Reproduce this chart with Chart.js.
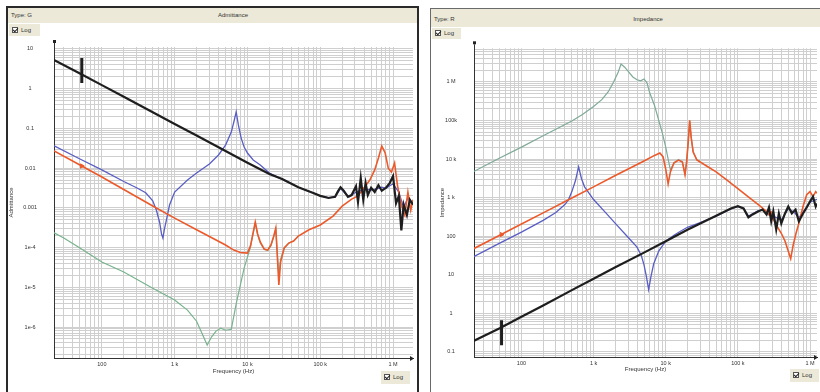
<!DOCTYPE html>
<html>
<head>
<meta charset="utf-8">
<title>Admittance / Impedance</title>
<script src="https://cdn.jsdelivr.net/npm/chart.js@4.4.1/dist/chart.umd.min.js"></script>
<style>
  * { box-sizing: border-box; }
  html, body { margin: 0; padding: 0; width: 820px; height: 392px; overflow: hidden; background: #fff;
    font-family: "Liberation Sans", Arial, sans-serif; color: #333; }
  .abs { position: absolute; }
  .frameA { left: 6px; top: 6px; width: 413px; height: 400px; border: 2px solid #2a2a2a; }
  .frameB { left: 430px; top: 8px; width: 420px; height: 400px; border: 1px solid #6a6a6a; }
  .bar { background: #ece9d8; }
  .txt { font-size: 6px; line-height: 7px; white-space: nowrap; }
  .center { text-align: center; }
  .logbox { background: #ece9d8; font-size: 6px; white-space: nowrap; padding-left: 3px; }
  .chk { display: inline-block; width: 6px; height: 6px; border: 1px solid #555; background: #fff;
    vertical-align: middle; position: relative; margin-right: 3px; }
  .chk::after { content: ''; position: absolute; left: 1px; top: -1px; width: 2px; height: 4px;
    border: solid #222; border-width: 0 1px 1px 0; transform: rotate(45deg); }
  canvas { position: absolute; }
</style>
</head>
<body>
<div class="abs frameA"></div>
<div class="abs frameB"></div>

<canvas id="admChart" style="left:8px;top:24px;width:410px;height:362px" width="410" height="362"></canvas>
<canvas id="impChart" style="left:432px;top:28px;width:390px;height:358px" width="390" height="358"></canvas>

<!-- left panel chrome -->
<div class="abs bar" style="left:8px;top:8px;width:409px;height:15px"></div>
<div class="abs txt" style="left:11px;top:12px">Type: G</div>
<div class="abs txt center" style="left:183px;top:12px;width:100px">Admittance</div>
<div class="abs logbox" style="left:9px;top:24px;width:31px;height:12px;line-height:12px"><span class="chk"></span>Log</div>
<div class="abs logbox" style="left:381px;top:371px;width:29px;height:13px;line-height:13px"><span class="chk"></span>Log</div>

<!-- right panel chrome -->
<div class="abs bar" style="left:431px;top:9px;width:400px;height:18px"></div>
<div class="abs txt" style="left:434px;top:16px">Type: R</div>
<div class="abs txt center" style="left:598px;top:16px;width:100px">Impedance</div>
<div class="abs logbox" style="left:432px;top:28px;width:29px;height:11px;line-height:11px"><span class="chk"></span>Log</div>
<div class="abs logbox" style="left:790px;top:369px;width:29px;height:13px;line-height:13px"><span class="chk"></span>Log</div>

<script>
// ---- axis labels ----
const freqTickValues = [100, 1e3, 1e4, 1e5, 1e6];
const freqTickLabels = ['100', '1 k', '10 k', '100 k', '1 M'];
const admTickValues = [10, 1, 0.1, 0.01, 0.001, 1e-4, 1e-5, 1e-6];
const admTickLabels = ['10', '1', '0.1', '0.01', '0.001', '1e-4', '1e-5', '1e-6'];
const impTickValues = [1e6, 1e5, 1e4, 1e3, 100, 10, 1, 0.1];
const impTickLabels = ['1 M', '100k', '10 k', '1 k', '100', '10', '1', '0.1'];

// ---- admittance (S) vs frequency (Hz) ----
const admBlackF = [20, 50, 100, 200, 500, 1e3, 2e3, 5e3, 1e4, 2e4, 3e4, 5e4, 8e4, 1e5, 1.3e5, 1.6e5, 1.75e5, 1.9e5, 2.1e5, 2.4e5, 2.7e5, 3.1e5, 3.3e5, 3.6e5, 3.9e5, 4.2e5, 4.5e5, 5e5, 5.6e5, 6.3e5, 7e5, 8e5, 9e5, 1e6, 1.1e6, 1.2e6, 1.3e6, 1.4e6, 1.55e6, 1.7e6, 1.88e6];
const admBlackV = [5.8, 2.4, 1.23, 0.625, 0.255, 0.129, 0.066, 0.027, 0.0136, 0.0071, 0.0053, 0.0033, 0.00236, 0.0020, 0.00177, 0.0019, 0.0026, 0.0033, 0.0027, 0.0019, 0.0021, 0.0035, 0.0014, 0.0056, 0.0016, 0.0042, 0.0021, 0.0032, 0.0025, 0.0037, 0.0027, 0.0032, 0.0042, 0.0063, 0.0013, 0.0020, 0.00027, 0.0012, 0.00066, 0.0016, 0.0012];

const admRedF = [20, 50, 100, 200, 500, 1e3, 2e3, 5e3, 6.5e3, 8e3, 1e4, 1.1e4, 1.2e4, 1.28e4, 1.38e4, 1.5e4, 1.7e4, 1.9e4, 2.1e4, 2.3e4, 2.45e4, 2.6e4, 2.7e4, 2.85e4, 3.2e4, 3.7e4, 4.3e4, 5e4, 7e4, 1e5, 1.5e5, 2e5, 2.7e5, 3.3e5, 4e5, 4.8e5, 5.6e5, 6.3e5, 7e5, 7.8e5, 8.6e5, 9.5e5, 1.05e6, 1.15e6, 1.3e6, 1.45e6, 1.6e6, 1.75e6, 1.88e6];
const admRedV = [0.030, 0.012, 0.006, 0.0029, 0.00111, 0.00055, 0.00028, 0.000116, 0.0000865, 0.0000748, 0.0000727, 0.00011, 0.000245, 0.00044, 0.00022, 0.000138, 0.0000917, 0.0000865, 0.000116, 0.000195, 0.00031, 0.0000431, 0.0000114, 0.0000431, 0.0000977, 0.00013, 0.000146, 0.000195, 0.00028, 0.00037, 0.00062, 0.0011, 0.00166, 0.0020, 0.0032, 0.005, 0.009, 0.018, 0.036, 0.024, 0.01, 0.0079, 0.0135, 0.0037, 0.00117, 0.00066, 0.0025, 0.00088, 0.0016];

const admBlueF = [20, 50, 100, 200, 300, 400, 500, 560, 620, 660, 690, 720, 780, 850, 1e3, 1.5e3, 2e3, 3e3, 4e3, 5e3, 6e3, 6.6e3, 7e3, 7.5e3, 8.2e3, 9e3, 1e4, 1.2e4, 1.5e4, 2e4, 3e4, 5e4, 8e4, 1e5, 1.3e5, 1.6e5, 1.9e5, 2.2e5, 2.5e5, 3e5, 4e5, 5e5, 6e5, 7e5, 8e5, 9e5, 1e6, 1.2e6, 1.4e6, 1.6e6, 1.88e6];
const admBlueV = [0.040, 0.017, 0.009, 0.0046, 0.0032, 0.0024, 0.0015, 0.00088, 0.00044, 0.00022, 0.000174, 0.00028, 0.00055, 0.00118, 0.0025, 0.0050, 0.0075, 0.0127, 0.0214, 0.038, 0.081, 0.163, 0.26, 0.122, 0.057, 0.034, 0.024, 0.016, 0.012, 0.0075, 0.0052, 0.0033, 0.0024, 0.0020, 0.0018, 0.0019, 0.0031, 0.0023, 0.0019, 0.0024, 0.0030, 0.0028, 0.0030, 0.0033, 0.0031, 0.0036, 0.0040, 0.0025, 0.0010, 0.0018, 0.0013];

const admGreenF = [20, 30, 50, 100, 200, 500, 1e3, 1.5e3, 2e3, 2.5e3, 2.8e3, 3.2e3, 3.7e3, 4.3e3, 5e3, 6e3, 7e3, 8e3, 9e3, 1e4, 1.1e4, 1.2e4, 1.28e4, 1.38e4, 1.5e4, 1.7e4, 1.9e4, 2.1e4, 2.3e4, 2.45e4, 2.6e4, 2.7e4, 2.85e4, 3.2e4, 3.7e4, 4.3e4, 5e4];
const admGreenV = [0.00026, 0.000174, 0.000097, 0.0000431, 0.0000242, 0.0000095, 0.0000048, 0.00000267, 0.0000014, 5.6e-7, 3.5e-7, 5.6e-7, 7.9e-7, 9.3e-7, 8.3e-7, 8.8e-7, 3.8e-6, 0.0000115, 0.0000305, 0.0000575, 0.000103, 0.00023, 0.00041, 0.00021, 0.00013, 0.000089, 0.000085, 0.00011, 0.00019, 0.00029, 0.000052, 0.000018, 0.00005, 0.0000977, 0.00013, 0.000146, 0.000195];

const admCursorF = [53, 53];
const admCursorV = [5.9, 1.39];
const admRedMarkF = [53];
const admRedMarkV = [0.0113];

// ---- impedance (Ohm) vs frequency (Hz) ----
const impGreenF = [20, 50, 100, 200, 500, 700, 1e3, 1.3e3, 1.6e3, 1.9e3, 2.2e3, 2.4e3, 2.7e3, 3e3, 3.5e3, 4e3, 4.5e3, 5e3, 5.5e3, 6e3, 7e3, 8e3, 9e3, 1e4, 1.1e4, 1.16e4, 1.3e4, 1.5e4, 1.7e4, 1.85e4, 1.95e4, 2.05e4, 2.15e4, 2.25e4, 2.4e4, 2.7e4, 3e4];
const impGreenV = [4380, 10600, 20300, 40100, 97000, 143000, 229000, 345000, 554000, 1.0e6, 1.8e6, 2.9e6, 2.4e6, 1.9e6, 1.34e6, 1.13e6, 1.06e6, 1.19e6, 0.94e6, 0.52e6, 243000, 100000, 46400, 20400, 8400, 5200, 8100, 9600, 8600, 4200, 8600, 30000, 95000, 38000, 15500, 9600, 8600];

const impRedF = [20, 50, 100, 200, 500, 1e3, 2e3, 5e3, 7e3, 8.3e3, 9.2e3, 1e4, 1.08e4, 1.16e4, 1.3e4, 1.5e4, 1.7e4, 1.85e4, 1.95e4, 2.05e4, 2.15e4, 2.25e4, 2.4e4, 2.7e4, 3e4, 3.5e4, 5e4, 7e4, 1e5, 1.5e5, 2e5, 2.5e5, 2.7e5, 2.9e5, 3.1e5, 3.5e5, 4e5, 4.5e5, 5e5, 5.4e5, 5.8e5, 6.4e5, 7e5, 8e5, 9e5, 1e6, 1.1e6, 1.2e6, 1.25e6];
const impRedV = [43.8, 106, 207, 402, 980, 1900, 3730, 8900, 12400, 14300, 11300, 5500, 2280, 4640, 7900, 9400, 8400, 3870, 8400, 27300, 100000, 36600, 15100, 9400, 8400, 7000, 4640, 2900, 1700, 940, 620, 437, 360, 420, 280, 180, 119, 75, 41, 26, 55, 119, 214, 590, 1190, 1430, 1060, 1430, 1300];

const impBlueF = [20, 50, 100, 200, 300, 400, 450, 500, 560, 620, 680, 750, 1e3, 1.5e3, 2e3, 3e3, 4e3, 4.6e3, 5e3, 5.4e3, 5.8e3, 6.2e3, 6.8e3, 8e3, 1e4, 1.3e4, 1.6e4, 2e4, 3e4, 5e4, 8e4, 1e5, 1.2e5, 1.4e5, 1.6e5, 1.9e5, 2.2e5, 2.5e5, 3e5, 3.5e5, 4e5, 5e5, 6e5, 7e5, 8e5, 1e6, 1.25e6];
const impBlueV = [27, 66, 127, 257, 412, 660, 890, 1430, 2730, 6240, 3090, 1900, 890, 390, 215, 94, 52, 31, 18, 8.9, 4.1, 8.4, 19, 41, 74, 106, 134, 170, 225, 330, 510, 590, 520, 330, 380, 450, 480, 390, 330, 300, 260, 520, 420, 300, 420, 760, 900];

const impBlackF = [20, 50, 100, 200, 500, 1e3, 2e3, 5e3, 1e4, 2e4, 5e4, 8e4, 1e5, 1.2e5, 1.4e5, 1.6e5, 1.9e5, 2.2e5, 2.5e5, 2.7e5, 2.9e5, 3.1e5, 3.4e5, 3.7e5, 4e5, 4.5e5, 5e5, 5.6e5, 6.3e5, 7e5, 8e5, 9e5, 1e6, 1.1e6, 1.2e6, 1.25e6];
const impBlackV = [0.18, 0.41, 0.82, 1.6, 4.0, 7.9, 15.6, 37.5, 74, 147, 340, 520, 600, 525, 307, 366, 437, 490, 366, 555, 243, 437, 150, 389, 214, 389, 590, 389, 490, 243, 389, 555, 790, 1060, 590, 700];

const impCursorF = [53, 53];
const impCursorV = [0.66, 0.15];
const impRedMarkF = [53];
const impRedMarkV = [110];

// ---- helpers ----
const pts = (fs, vs) => fs.map((f, i) => ({ x: f, y: vs[i] }));

// grid positions at 1..9 x 10^n inside [min, max]
function logGrid(min, max) {
  const out = [];
  for (let e = Math.floor(Math.log10(min)); e <= Math.ceil(Math.log10(max)); e++) {
    for (let k = 1; k <= 9; k++) {
      const v = k * Math.pow(10, e);
      if (v >= min * 0.999 && v <= max * 1.001) out.push(+v.toPrecision(6));
    }
  }
  return out;
}
function labelFor(values, labels) {
  return (v) => {
    const i = values.findIndex(t => Math.abs(Math.log10(v / t)) < 1e-6);
    return i >= 0 ? labels[i] : '';
  };
}

const COLORS = { black: '#1e1e1e', red: '#ec5a2c', blue: '#5a5ec4', green: '#78b28e' };

function line(data, color, width) {
  return { data, borderColor: color, backgroundColor: color, borderWidth: width,
    pointRadius: 0, tension: 0, showLine: true, fill: false };
}

// small end marks on the axes
const axisEnds = {
  id: 'axisEnds',
  afterDraw(chart) {
    const { ctx, chartArea: a } = chart;
    ctx.save();
    ctx.strokeStyle = '#333';
    ctx.fillStyle = '#222';
    ctx.lineWidth = 1;
    ctx.beginPath();
    ctx.moveTo(a.left + 0.5, a.top);
    ctx.lineTo(a.left + 0.5, a.top - 4);
    ctx.stroke();
    ctx.fillRect(a.left - 1, a.top - 7, 3, 3);
    ctx.beginPath();
    ctx.moveTo(a.right + 1, a.bottom + 0.5);
    ctx.lineTo(a.right - 3, a.bottom - 2);
    ctx.lineTo(a.right - 3, a.bottom + 3);
    ctx.closePath();
    ctx.fill();
    ctx.restore();
  }
};

function makeChart(id, cfg) {
  const tickFont = { family: '"Liberation Sans", Arial, sans-serif', size: 5.5 };
  const titleFont = { family: '"Liberation Sans", Arial, sans-serif', size: 6 };
  return new Chart(document.getElementById(id), {
    type: 'scatter',
    data: { datasets: cfg.datasets },
    plugins: [axisEnds],
    options: {
      responsive: false,
      animation: false,
      events: [],
      layout: { padding: cfg.padding },
      plugins: { legend: { display: false }, tooltip: { enabled: false }, title: { display: false } },
      scales: {
        x: {
          type: 'logarithmic',
          min: cfg.xMin, max: cfg.xMax,
          afterBuildTicks: (s) => { s.ticks = logGrid(cfg.xMin, cfg.xMax).map(v => ({ value: v })); },
          afterFit: (s) => { s.height = cfg.xHeight; },
          grid: { color: '#cfcfcf', lineWidth: 1, drawTicks: false },
          border: { display: true, color: '#333', width: 1 },
          ticks: { autoSkip: false, maxRotation: 0, minRotation: 0, padding: 3, color: '#333', font: tickFont,
            callback: labelFor(freqTickValues, freqTickLabels) },
          title: { display: true, text: 'Frequency (Hz)', color: '#333', font: titleFont,
            padding: { top: 0, bottom: cfg.xTitlePad } }
        },
        y: {
          type: 'logarithmic',
          min: cfg.yMin, max: cfg.yMax,
          afterBuildTicks: (s) => { s.ticks = logGrid(cfg.yMin, cfg.yMax).map(v => ({ value: v })); },
          afterFit: (s) => { s.width = cfg.yWidth; },
          grid: { color: '#cfcfcf', lineWidth: 1, drawTicks: false },
          border: { display: true, color: '#333', width: 1 },
          ticks: { autoSkip: false, crossAlign: 'center', padding: 17, color: '#333', font: tickFont,
            callback: labelFor(cfg.yTickValues, cfg.yTickLabels) },
          title: { display: true, text: cfg.yTitle, color: '#333', font: titleFont,
            padding: { top: cfg.yTitlePad, bottom: 0 } }
        }
      }
    }
  });
}

// Admittance panel
makeChart('admChart', {
  padding: { left: 0, right: 5, top: 23, bottom: 0 },
  xMin: 22, xMax: 1.88e6, xHeight: 28, xTitlePad: 11,
  yMin: 1.66e-7, yMax: 11.2, yWidth: 46, yTitlePad: 0,
  yTickValues: admTickValues, yTickLabels: admTickLabels, yTitle: 'Admittance',
  datasets: [
    { ...line(pts(admCursorF, admCursorV), COLORS.black, 3) },
    { ...line(pts(admRedMarkF, admRedMarkV), COLORS.red, 1), showLine: false, pointRadius: 2.5, pointStyle: 'triangle', rotation: 90 },
    line(pts(admBlackF, admBlackV), COLORS.black, 2.2),
    line(pts(admRedF, admRedV), COLORS.red, 1.6),
    line(pts(admBlueF, admBlueV), COLORS.blue, 1.3),
    line(pts(admGreenF, admGreenV), COLORS.green, 1.2)
  ]
});

// Impedance panel
makeChart('impChart', {
  padding: { left: 0, right: 2, top: 17, bottom: 0 },
  xMin: 22, xMax: 1.25e6, xHeight: 29, xTitlePad: 13,
  yMin: 0.074, yMax: 7.4e6, yWidth: 42, yTitlePad: 7,
  yTickValues: impTickValues, yTickLabels: impTickLabels, yTitle: 'Impedance',
  datasets: [
    { ...line(pts(impCursorF, impCursorV), COLORS.black, 3) },
    { ...line(pts(impRedMarkF, impRedMarkV), COLORS.red, 1), showLine: false, pointRadius: 2.5, pointStyle: 'triangle', rotation: 90 },
    line(pts(impBlackF, impBlackV), COLORS.black, 2.2),
    line(pts(impRedF, impRedV), COLORS.red, 1.6),
    line(pts(impBlueF, impBlueV), COLORS.blue, 1.3),
    line(pts(impGreenF, impGreenV), '#7faa98', 1.2)
  ]
});
</script>
</body>
</html>
